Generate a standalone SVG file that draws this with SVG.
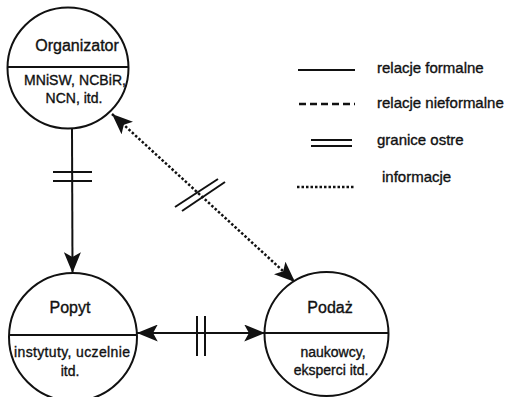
<svg xmlns="http://www.w3.org/2000/svg" width="510" height="397" viewBox="0 0 510 397">
  <style>
    .node { fill: #ffffff; stroke: #111; stroke-width: 2; }
    .div { stroke: #111; stroke-width: 2.2; }
    .t { font-family: "Liberation Sans", Arial, sans-serif; fill: #111; stroke: #111; stroke-width: 0.35; text-anchor: middle; }
    .title { font-size: 16px; }
    .sub { font-size: 14px; }
    .leg { font-family: "Liberation Sans", Arial, sans-serif; font-size: 15px; fill: #111; stroke: #111; stroke-width: 0.35; }
    .solid { stroke: #111; stroke-width: 2; fill: none; }
    .dash { stroke: #111; stroke-width: 2.5; stroke-dasharray: 7 4; fill: none; }
    .dot { stroke: #111; stroke-width: 2.5; stroke-dasharray: 2.5 2; fill: none; }
    .bar { stroke: #111; stroke-width: 2; }
  </style>
  <defs>
    <marker id="ah" viewBox="0 0 22 18" refX="22" refY="9" markerWidth="21" markerHeight="17" markerUnits="userSpaceOnUse" orient="auto-start-reverse">
      <path d="M0,0 L22,9 L0,18 L5,9 Z" fill="#111"/>
    </marker>
  </defs>

  <g id="connectors">
    <!-- Organizator -> Popyt, formal link with a sharp boundary -->
    <line class="solid" x1="72" y1="129" x2="72.5" y2="273" marker-end="url(#ah)"/>
    <line class="bar" x1="53" y1="172" x2="92" y2="172"/>
    <line class="bar" x1="53" y1="181" x2="92" y2="181"/>
    <!-- Popyt <-> Podaz, formal link with a sharp boundary -->
    <line class="solid" x1="137" y1="333" x2="265" y2="333" marker-start="url(#ah)" marker-end="url(#ah)"/>
    <line class="bar" x1="197" y1="316" x2="197" y2="356"/>
    <line class="bar" x1="205" y1="316" x2="205" y2="356"/>
    <!-- Organizator <-> Podaz, information flow with a sharp boundary -->
    <line class="dot" x1="112" y1="114" x2="295" y2="282" marker-start="url(#ah)" marker-end="url(#ah)"/>
    <line class="bar" x1="175" y1="207" x2="218" y2="179"/>
    <line class="bar" x1="182" y1="211" x2="225" y2="182"/>
  </g>

  <g id="organizator">
    <circle class="node" cx="68" cy="68" r="60.5"/>
    <line class="div" x1="7.5" y1="67" x2="128.5" y2="67"/>
    <text class="t title" x="77" y="51">Organizator</text>
    <text class="t sub" x="75" y="85" textLength="102">MNiSW, NCBiR,</text>
    <text class="t sub" x="74" y="103">NCN, itd.</text>
  </g>

  <g id="popyt">
    <circle class="node" cx="73" cy="337" r="64"/>
    <line class="div" x1="9" y1="335" x2="137" y2="335"/>
    <text class="t title" x="70" y="313">Popyt</text>
    <text class="t sub" x="72" y="357" textLength="116">instytuty, uczelnie</text>
    <text class="t sub" x="70" y="376">itd.</text>
  </g>

  <g id="podaz">
    <circle class="node" cx="326.5" cy="334" r="62"/>
    <line class="div" x1="264.5" y1="333" x2="388.5" y2="333"/>
    <text class="t title" x="330" y="313">Podaż</text>
    <text class="t sub" x="333" y="357">naukowcy,</text>
    <text class="t sub" x="331" y="375">eksperci itd.</text>
  </g>

  <g id="legend">
    <line class="solid" x1="298" y1="70" x2="355" y2="70"/>
    <text class="leg" x="377" y="73">relacje formalne</text>
    <line class="dash" x1="299" y1="104" x2="355" y2="104"/>
    <text class="leg" x="377" y="108">relacje nieformalne</text>
    <line class="bar" x1="311" y1="140" x2="352" y2="140"/>
    <line class="bar" x1="311" y1="146" x2="352" y2="146"/>
    <text class="leg" x="377" y="145">granice ostre</text>
    <line class="dot" x1="297" y1="187" x2="355" y2="187"/>
    <text class="leg" x="382" y="182">informacje</text>
  </g>
</svg>
